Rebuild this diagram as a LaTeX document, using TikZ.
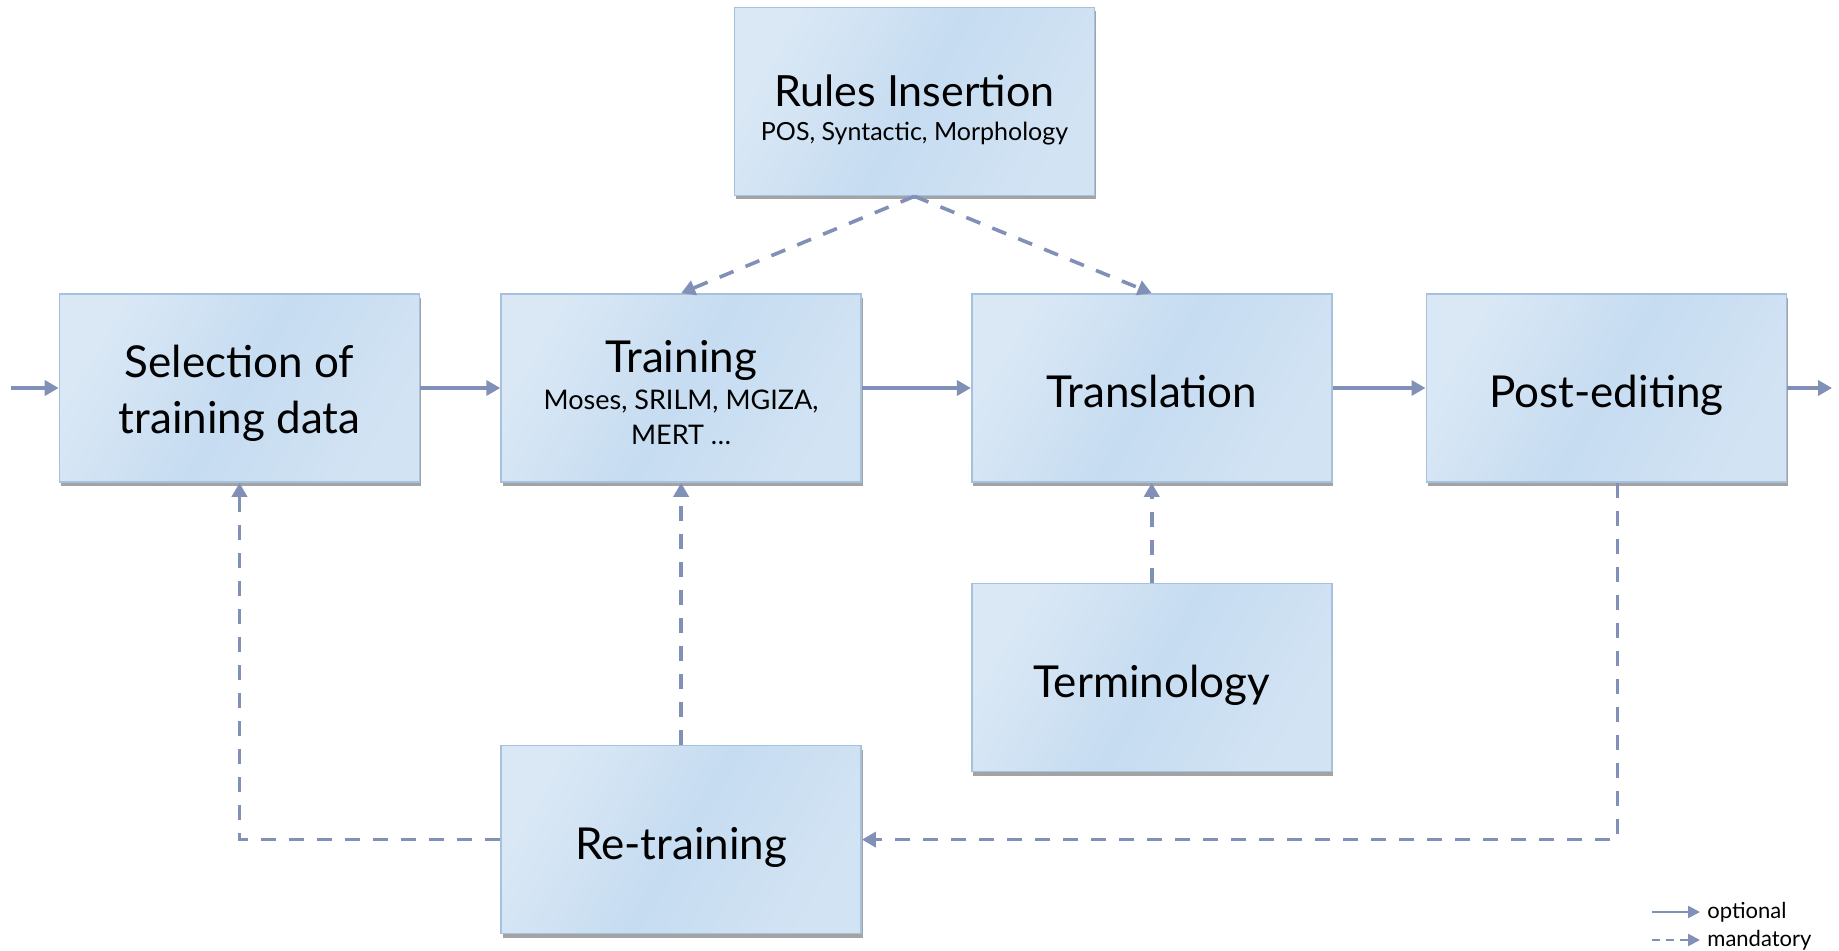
\documentclass[tikz,border=0pt]{standalone}
\usepackage{fontspec}
\setmainfont{Lato}
\usepackage{tikz}
\usetikzlibrary{arrows.meta,positioning,shadows}

\definecolor{boxlight}{HTML}{DAE8F5}
\definecolor{boxmid}{HTML}{C6DCF1}
\definecolor{boxline}{HTML}{A6C1DD}
\definecolor{flowcol}{HTML}{8190B7}

\begin{document}
\begin{tikzpicture}[x=0.5pt,y=-0.5pt,
  stage/.style={draw=boxline,line width=0.8pt,minimum width=180pt,minimum height=94pt,
    align=center,left color=boxlight,right color=boxlight!60!boxmid,middle color=boxmid,shading angle=60,
    drop shadow={shadow xshift=0.8pt,shadow yshift=-2pt,opacity=.45,fill=black!80}},
  big/.style={font=\fontsize{22}{28}\selectfont,text height=20pt,text depth=0pt},
  optional/.style={draw=flowcol,line width=1.8pt,-{Triangle[length=7pt,width=7.5pt]}},
  mandatory/.style={optional,dash pattern=on 7.5pt off 6.5pt},
  key/.style={anchor=west,inner sep=0pt,font=\fontsize{11}{13}\selectfont}]
\useasboundingbox (0,0) rectangle (1839,951);

\node[stage,font=\fontsize{22}{28}\selectfont] (sel) at (239.5,388) {\rule{0pt}{22pt}Selection of\\training data};
\node[stage,font=\fontsize{13.5}{17.5}\selectfont] (train) [right=40pt of sel]
  {{\fontsize{22}{28}\selectfont\rule{0pt}{21pt}Training}\\[1pt]Moses, SRILM, MGIZA,\\MERT \dots};
\node[stage,big] (trans) [right=54.5pt of train] {Translation};
\node[stage,big] (post) [right=46.5pt of trans] {Post-editing};
\node[stage,font=\fontsize{12.5}{17}\selectfont] (rules) at (914.5,101.5)
  {{\fontsize{21.5}{24}\selectfont\rule{0pt}{24pt}Rules Insertion}\\POS, Syntactic, Morphology};
\node[stage,big] (term) [below=50pt of trans] {Terminology};
\node[stage,big] (retrain) [below=131pt of train] {Re-training};

\coordinate (in) at (11,388);
\coordinate (out) at (1832,388);

% main flow
\draw[optional] (in) -- (sel);
\draw[optional] (sel) -- (train);
\draw[optional] (train) -- (trans);
\draw[optional] (trans) -- (post);
\draw[optional] (post) -- (out);

% feeding and feedback
\draw[mandatory] (rules.south) -- (train.north);
\draw[mandatory] (rules.south) -- (trans.north);
\draw[mandatory] (term) -- (trans);
\draw[mandatory] (retrain) -- (train);
\draw[mandatory] (retrain.west) -| (sel.south);
\draw[mandatory] ([xshift=5.5pt]post.south) |- (retrain.east);

% legend
\coordinate (optA) at (1652,912);
\coordinate (mandA) at (1652,940);
\node[key] (opt) at (1707,912) {optional};
\node[key] (mand) at (1707,940) {mandatory};
\draw[optional,line width=1.2pt,-{Triangle[length=6pt,width=6pt]}] (optA) -- ([xshift=-3.5pt]opt.west);
\draw[mandatory,line width=1.2pt,dash pattern=on 4pt off 3pt,-{Triangle[length=6pt,width=6pt]}] (mandA) -- ([xshift=-3.5pt]mand.west);
\end{tikzpicture}
\end{document}
